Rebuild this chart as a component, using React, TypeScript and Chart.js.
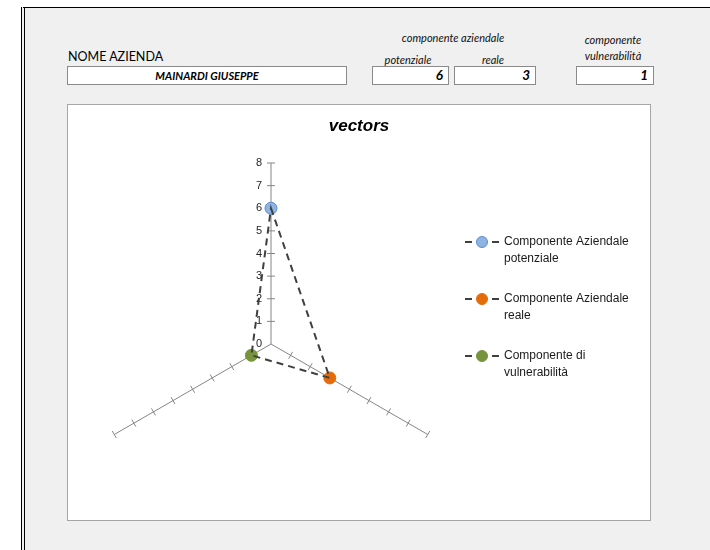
import React, { useEffect, useRef } from "react";
import { Chart, registerables } from "chart.js";

Chart.register(...registerables);

// ---- data ----
const categories = ["", "", ""];
const vectorValues = [6, 3, 1];
const seriesNames: string[][] = [
  ["Componente Aziendale", "potenziale"],
  ["Componente Aziendale", "reale"],
  ["Componente di", "vulnerabilità"],
];
const seriesFill = ["#8db4e2", "#e46c0a", "#77933c"];
const seriesBorder = ["#5b8bd0", "#e46c0a", "#77933c"];
const tickValues = [0, 1, 2, 3, 4, 5, 6, 7, 8];
const chartTitle = "vectors";
const companyLabel = "NOME AZIENDA";
const companyName = "MAINARDI GIUSEPPE";
const groupLabel = "componente aziendale";
const boxLabels = ["potenziale", "reale"];
const vulnLabel = ["componente", "vulnerabilità"];

const CHART_FONT = "'Liberation Sans', Arial, sans-serif";
const SHEET_FONT = "Lato, 'Open Sans', sans-serif";

const radarDecor = {
  id: "radarDecor",
  beforeDatasetsDraw(chart: any) {
    const scale = chart.scales.r;
    const ctx = chart.ctx;
    ctx.save();
    ctx.strokeStyle = "#868686";
    ctx.lineWidth = 1;
    for (let i = 0; i < categories.length; i++) {
      for (const v of tickValues) {
        if (v === 0) continue;
        const p = scale.getPointPositionForValue(i, v);
        const a = p.angle;
        const px = -Math.sin(a) * 4;
        const py = Math.cos(a) * 4;
        ctx.beginPath();
        ctx.moveTo(p.x - px, p.y - py);
        ctx.lineTo(p.x + px, p.y + py);
        ctx.stroke();
      }
    }
    ctx.fillStyle = "#262626";
    ctx.font = `11px ${CHART_FONT}`;
    ctx.textAlign = "right";
    ctx.textBaseline = "middle";
    for (const v of tickValues) {
      const p = scale.getPointPositionForValue(0, v);
      ctx.fillText(String(v), p.x - 9, p.y);
    }
    ctx.restore();
  },
  afterDraw(chart: any) {
    const ctx = chart.ctx;
    ctx.save();
    ctx.fillStyle = "#000";
    ctx.font = `italic bold 17px ${CHART_FONT}`;
    ctx.textAlign = "center";
    ctx.textBaseline = "middle";
    ctx.fillText(chartTitle, 359, 126);
    const ys = [242, 299, 356];
    ctx.font = `12px ${CHART_FONT}`;
    ctx.textAlign = "left";
    for (let i = 0; i < seriesNames.length; i++) {
      const y = ys[i];
      ctx.strokeStyle = "#404040";
      ctx.lineWidth = 2;
      ctx.beginPath();
      ctx.moveTo(465, y);
      ctx.lineTo(472, y);
      ctx.moveTo(492, y);
      ctx.lineTo(499, y);
      ctx.stroke();
      ctx.beginPath();
      ctx.arc(482, y, 5.5, 0, Math.PI * 2);
      ctx.fillStyle = seriesFill[i];
      ctx.fill();
      ctx.lineWidth = 1;
      ctx.strokeStyle = seriesBorder[i];
      ctx.stroke();
      ctx.fillStyle = "#1a1a1a";
      seriesNames[i].forEach((t, k) => ctx.fillText(t, 504, y + k * 17));
    }
    ctx.restore();
  },
};

function RadarChart() {
  const ref = useRef<HTMLCanvasElement>(null);
  useEffect(() => {
    const canvas = ref.current!;
    const pointSets = vectorValues.map((v, i) => ({
      label: seriesNames[i].join(" "),
      data: vectorValues.map((w, j) => (j === i ? w : null)),
      showLine: false,
      pointRadius: 6,
      pointBackgroundColor: seriesFill[i],
      pointBorderColor: seriesBorder[i],
      pointBorderWidth: 1,
      borderColor: seriesBorder[i],
      backgroundColor: seriesFill[i],
    }));
    const chart = new Chart(canvas, {
      type: "radar",
      data: {
        labels: categories,
        datasets: [
          {
            label: "vectors",
            data: vectorValues,
            borderColor: "#404040",
            borderWidth: 2,
            borderDash: [7, 5],
            fill: false,
            pointRadius: 0,
            backgroundColor: "transparent",
          },
          ...pointSets,
        ],
      },
      plugins: [radarDecor],
      options: {
        responsive: false,
        animation: false,
        events: [],
        layout: { padding: { left: 90, right: 258, top: 163, bottom: 25 } },
        plugins: { legend: { display: false }, title: { display: false }, tooltip: { enabled: false } },
        scales: {
          r: {
            min: 0,
            max: 8,
            ticks: { display: false, stepSize: 1 },
            grid: { display: false },
            angleLines: { display: true, color: "#868686", lineWidth: 1 },
            pointLabels: { display: false },
          },
        },
      },
    });
    return () => chart.destroy();
  }, []);
  return (
    <canvas
      ref={ref}
      width={710}
      height={550}
      style={{ position: "absolute", left: 0, top: 0, width: 710, height: 550, pointerEvents: "none" }}
    />
  );
}

const abs = (s: React.CSSProperties): React.CSSProperties => ({ position: "absolute", ...s });
const centered = (x: number, y: number, extra: React.CSSProperties = {}): React.CSSProperties =>
  abs({ left: x, top: y, transform: "translate(-50%, -50%)", whiteSpace: "nowrap", lineHeight: 1, ...extra });
const boxStyle = (l: number, w: number): React.CSSProperties =>
  abs({
    left: l,
    top: 66,
    width: w,
    height: 19,
    boxSizing: "border-box",
    background: "#fff",
    border: "1px solid #8a8a8a",
    fontFamily: SHEET_FONT,
    fontStyle: "italic",
    fontWeight: 700,
    fontSize: 13.5,
    lineHeight: "17px",
    color: "#000",
  });
const smallItalic: React.CSSProperties = { fontFamily: SHEET_FONT, fontStyle: "italic", fontSize: 11, color: "#111" };

export default function App() {
  return (
    <div style={{ position: "fixed", left: 0, top: 0, width: 710, height: 550, background: "#fff", overflow: "hidden" }}>
      <div
        style={abs({
          left: 21,
          top: 7,
          width: 689,
          height: 543,
          boxSizing: "border-box",
          background: "#f0f0f0",
          borderTop: "1px solid #000",
          borderLeft: "4px double #000",
        })}
      />
      <div style={abs({ left: 67, top: 104, width: 584, height: 417, boxSizing: "border-box", background: "#fff", border: "1px solid #a6a6a6" })} />
      <div style={abs({ left: 68, top: 50, fontFamily: SHEET_FONT, fontSize: 12.5, lineHeight: "14px", color: "#000" })}>{companyLabel}</div>
      <div style={{ ...boxStyle(67, 280), textAlign: "center", fontSize: 11 }}>{companyName}</div>
      <div style={centered(453, 37, smallItalic)}>{groupLabel}</div>
      <div style={centered(408, 59, smallItalic)}>{boxLabels[0]}</div>
      <div style={centered(493, 59, smallItalic)}>{boxLabels[1]}</div>
      <div style={centered(613, 39, smallItalic)}>{vulnLabel[0]}</div>
      <div style={centered(613, 55, smallItalic)}>{vulnLabel[1]}</div>
      <div style={{ ...boxStyle(372, 77), textAlign: "right", paddingRight: 5 }}>{vectorValues[0]}</div>
      <div style={{ ...boxStyle(454, 82), textAlign: "right", paddingRight: 5 }}>{vectorValues[1]}</div>
      <div style={{ ...boxStyle(576, 78), textAlign: "right", paddingRight: 5 }}>{vectorValues[2]}</div>
      <RadarChart />
    </div>
  );
}
